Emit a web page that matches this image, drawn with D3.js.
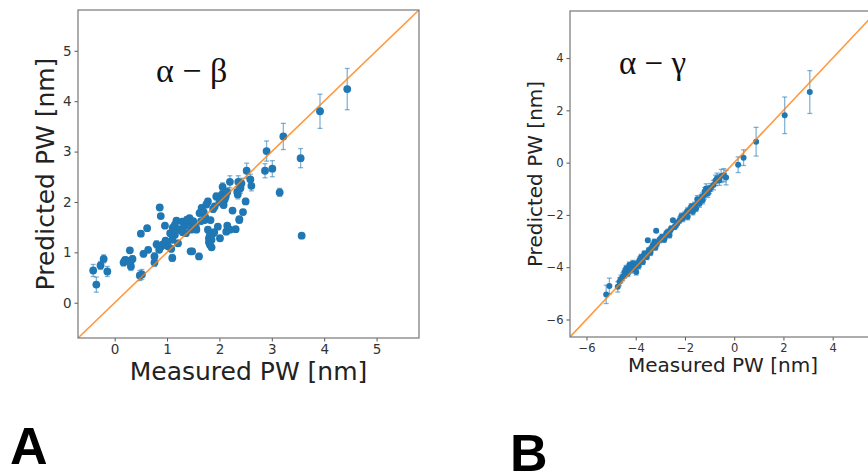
<!DOCTYPE html>
<html>
<head>
<meta charset="utf-8">
<script src="https://cdn.jsdelivr.net/npm/d3@7"></script>
<style>
  body { margin: 0; background: #fff; }
  svg { display: block; }
</style>
</head>
<body>
<div id="chart"></div>
<script>
// panel A: alpha - beta
var measuredA = [-0.41, -0.35, -0.27, -0.21, -0.14, 0.17, 0.22, 0.29, 0.31, 0.34, 0.20, 0.30,
  0.48, 0.52, 0.50, 0.55, 0.62, 0.64, 0.76, 0.76, 0.80, 0.86, 0.88, 0.89, 0.96, 0.92, 0.97, 0.95, 0.85,
  1.02, 1.06, 1.08, 1.10, 1.11, 1.15, 1.18, 1.21, 1.25, 1.29, 1.34, 1.36, 1.40, 1.43, 1.45, 1.46,
  1.51, 1.56, 1.61, 1.62, 1.66, 1.72, 1.78, 1.78, 1.80, 1.82, 1.83, 1.88, 1.88, 1.91, 1.94, 1.97,
  2.01, 2.03, 2.06, 2.08, 2.12, 2.13, 2.15, 2.20, 2.25, 2.31, 2.34, 2.36, 2.38, 2.40, 2.42, 2.45,
  2.50, 2.52, 2.59, 2.61, 2.87, 2.90, 3.01, 3.15, 3.22, 3.55, 3.57, 3.92, 4.44,
  1.00, 1.15, 1.30, 1.38, 1.50, 1.55, 1.70, 1.75, 1.80, 1.82, 1.85, 1.85, 1.90, 2.00, 2.05, 2.10,
  2.15, 2.20, 2.35, 2.38, 2.40, 1.20, 1.10, 1.48, 1.73, 1.65];
var predictedA = [0.64, 0.36, 0.74, 0.87, 0.62, 0.80, 0.84, 1.04, 0.72, 0.87, 0.85, 0.80,
  0.54, 0.56, 1.37, 0.97, 1.48, 1.05, 0.92, 0.80, 1.16, 1.89, 1.72, 1.12, 1.53, 1.16, 1.23, 1.15, 1.05,
  1.12, 1.38, 1.07, 0.89, 1.49, 1.35, 1.63, 1.18, 1.46, 1.61, 1.53, 1.38, 1.59, 1.68, 1.02, 1.45,
  1.55, 1.45, 0.92, 1.78, 1.88, 1.64, 2.01, 1.45, 1.28, 1.15, 1.64, 1.86, 1.38, 1.91, 2.11, 1.51,
  1.28, 2.04, 2.30, 1.94, 2.11, 1.41, 1.53, 2.40, 1.83, 1.46, 2.20, 2.40, 1.64, 2.27, 2.37, 1.80,
  2.01, 2.62, 2.45, 2.32, 2.62, 3.01, 2.66, 2.19, 3.30, 2.87, 1.33, 3.80, 4.24,
  1.20, 1.55, 1.40, 1.65, 1.62, 1.50, 1.80, 1.95, 1.20, 1.35, 1.10, 1.25, 1.40, 2.00, 2.15, 2.05,
  2.20, 1.45, 2.15, 1.66, 2.30, 1.45, 1.25, 1.02, 1.70, 1.62];
var errA = [0.12, 0.15, 0.08, 0.08, 0.10, 0.07, 0.06, 0.05, 0.08, 0.06, 0.05, 0.05,
  0.10, 0.10, 0.03, 0.06, 0.03, 0.05, 0.07, 0.08, 0.07, 0.03, 0.03, 0.06, 0.03, 0.05, 0.05, 0.05, 0.05,
  0.06, 0.05, 0.06, 0.07, 0.05, 0.06, 0.05, 0.06, 0.05, 0.05, 0.05, 0.05, 0.05, 0.05, 0.04, 0.05,
  0.05, 0.05, 0.06, 0.06, 0.06, 0.05, 0.06, 0.05, 0.05, 0.05, 0.05, 0.06, 0.05, 0.06, 0.07, 0.05,
  0.05, 0.07, 0.08, 0.06, 0.07, 0.05, 0.05, 0.12, 0.05, 0.05, 0.10, 0.12, 0.05, 0.10, 0.10, 0.05,
  0.06, 0.15, 0.10, 0.10, 0.14, 0.20, 0.16, 0.08, 0.26, 0.19, 0.03, 0.34, 0.41,
  0.05, 0.05, 0.05, 0.05, 0.05, 0.05, 0.06, 0.06, 0.05, 0.05, 0.05, 0.05, 0.05, 0.07, 0.08, 0.07,
  0.08, 0.05, 0.09, 0.05, 0.10, 0.05, 0.05, 0.04, 0.06, 0.05];
var ticksA = [0, 1, 2, 3, 4, 5];

// panel B: alpha - gamma
var measuredB = [-5.20, -5.07, -4.73, -4.66, -4.53, -4.46, -4.39, -4.32, -4.26, -4.19, -4.12, -4.05,
  -3.98, -3.92, -3.85, -3.78, -3.71, -3.65, -3.55, -3.47, -3.51, -3.38, -3.31, -3.24, -3.17, -3.14,
  -3.04, -2.93, -2.83, -2.76, -2.70, -2.63, -2.56, -2.49, -2.42, -2.36, -2.22, -2.09, -2.02, -1.95,
  -1.89, -1.82, -1.75, -1.68, -1.61, -1.55, -1.48, -1.41, -1.34, -1.28, -1.21, -1.14, -1.07, -1.00,
  -0.84, -0.76, -0.60, -0.53, -0.42, -0.33, 0.16, 0.38, 0.89, 2.05, 3.07,
  -4.60, -4.45, -4.15, -4.00, -3.88, -3.60, -3.40, -3.20, -3.00, -2.85, -2.60, -2.30, -2.15, -1.90,
  -1.70, -1.50, -1.30, -1.20, -0.95, -0.70];
var predictedB = [-5.04, -4.72, -4.75, -4.56, -4.37, -4.18, -4.05, -4.24, -3.92, -4.11, -3.86, -4.05,
  -4.18, -3.86, -3.73, -3.61, -3.80, -3.48, -3.61, -3.35, -2.97, -3.29, -3.16, -3.03, -2.61, -3.10,
  -2.97, -2.84, -2.90, -2.71, -2.65, -2.78, -2.52, -2.20, -2.46, -2.39, -2.20, -2.14, -2.01, -1.95,
  -2.07, -1.82, -1.69, -1.88, -1.63, -1.75, -1.50, -1.57, -1.37, -1.44, -1.24, -0.99, -1.18, -1.03,
  -0.86, -0.68, -0.67, -0.51, -0.48, -0.57, -0.08, 0.19, 0.80, 1.81, 2.70,
  -4.45, -4.30, -3.98, -3.90, -3.95, -3.55, -3.45, -3.25, -2.92, -2.95, -2.60, -2.30, -2.05, -1.85,
  -1.70, -1.40, -1.30, -1.10, -0.95, -0.60];
var errB = [0.35, 0.30, 0.20, 0.15, 0.15, 0.12, 0.12, 0.12, 0.12, 0.12, 0.12, 0.12,
  0.12, 0.12, 0.12, 0.10, 0.10, 0.10, 0.10, 0.10, 0.05, 0.10, 0.10, 0.10, 0.05, 0.10,
  0.10, 0.10, 0.10, 0.10, 0.10, 0.10, 0.10, 0.05, 0.10, 0.10, 0.12, 0.12, 0.12, 0.12,
  0.12, 0.12, 0.12, 0.12, 0.12, 0.12, 0.14, 0.14, 0.14, 0.14, 0.15, 0.18, 0.15, 0.15,
  0.18, 0.20, 0.20, 0.25, 0.25, 0.28, 0.30, 0.30, 0.55, 0.70, 0.82,
  0.15, 0.12, 0.12, 0.12, 0.12, 0.10, 0.10, 0.10, 0.10, 0.10, 0.10, 0.10, 0.12, 0.12,
  0.12, 0.14, 0.14, 0.15, 0.15, 0.20];
var ticksB = [-6, -4, -2, 0, 2, 4];

var W = 868, H = 473;
var svg = d3.select("#chart").append("svg")
    .attr("width", W)
    .attr("height", H);

var fmt = d => d < 0 ? "\u2212" + Math.abs(d) : "" + d;

function drawPanel(p) {
    var x = d3.scaleLinear().domain(p.domain).range([p.left, p.right]);
    var y = d3.scaleLinear().domain(p.domain).range([p.bottom, p.top]);
    var g = svg.append("g");

    var clipId = "clip" + p.name;
    g.append("clipPath").attr("id", clipId)
        .append("rect")
        .attr("x", p.left).attr("y", p.top)
        .attr("width", p.right - p.left).attr("height", p.bottom - p.top);

    var plot = g.append("g").attr("clip-path", "url(#" + clipId + ")");

    var pts = p.xs.map((v, i) => ({x: v, y: p.ys[i], e: p.es[i]}));

    // error bars
    var eb = plot.selectAll(".eb").data(pts).enter().append("g")
        .attr("stroke", "#1f77b4")
        .attr("stroke-opacity", 0.55)
        .attr("stroke-width", 1.3);
    eb.append("line")
        .attr("x1", d => x(d.x)).attr("x2", d => x(d.x))
        .attr("y1", d => y(d.y - d.e)).attr("y2", d => y(d.y + d.e));
    eb.append("line")
        .attr("x1", d => x(d.x) - p.cap).attr("x2", d => x(d.x) + p.cap)
        .attr("y1", d => y(d.y - d.e)).attr("y2", d => y(d.y - d.e));
    eb.append("line")
        .attr("x1", d => x(d.x) - p.cap).attr("x2", d => x(d.x) + p.cap)
        .attr("y1", d => y(d.y + d.e)).attr("y2", d => y(d.y + d.e));

    // points
    plot.selectAll(".dot").data(pts).enter().append("circle")
        .attr("cx", d => x(d.x))
        .attr("cy", d => y(d.y))
        .attr("r", p.r)
        .attr("fill", "#1f77b4");

    // identity line
    plot.append("line")
        .attr("x1", x(p.domain[0])).attr("y1", y(p.domain[0]))
        .attr("x2", x(p.domain[1])).attr("y2", y(p.domain[1]))
        .attr("stroke", "#ff7f0e")
        .attr("stroke-opacity", 0.8)
        .attr("stroke-width", 1.6);

    // axes
    g.append("g")
        .attr("transform", "translate(0," + p.bottom + ")")
        .call(d3.axisBottom(x).tickValues(p.ticks).tickFormat(fmt).tickSizeOuter(0).tickSize(3.5).tickPadding(3))
        .call(a => a.select(".domain").remove())
        .call(a => a.selectAll("text").attr("fill", "#333").style("font-family", "DejaVu Sans").style("font-size", p.tickFont + "px"))
        .call(a => a.selectAll("line").attr("stroke", "#555"));
    g.append("g")
        .attr("transform", "translate(" + p.left + ",0)")
        .call(d3.axisLeft(y).tickValues(p.ticks).tickFormat(fmt).tickSizeOuter(0).tickSize(3.5).tickPadding(3))
        .call(a => a.select(".domain").remove())
        .call(a => a.selectAll("text").attr("fill", "#333").style("font-family", "DejaVu Sans").style("font-size", p.tickFont + "px"))
        .call(a => a.selectAll("line").attr("stroke", "#555"));

    // frame
    g.append("rect")
        .attr("x", p.left).attr("y", p.top)
        .attr("width", p.right - p.left).attr("height", p.bottom - p.top)
        .attr("fill", "none")
        .attr("stroke", "#777")
        .attr("stroke-width", 1.2);

    // axis labels
    g.append("text")
        .attr("x", (p.left + Math.min(p.right, W)) / 2 + p.xlabDx)
        .attr("y", p.xlabY)
        .attr("text-anchor", "middle")
        .style("font-family", "DejaVu Sans")
        .style("font-size", p.labFont + "px")
        .attr("fill", "#222")
        .text("Measured PW [nm]");
    g.append("text")
        .attr("transform", "translate(" + p.ylabX + "," + (p.top + p.bottom) / 2 + ") rotate(-90)")
        .attr("text-anchor", "middle")
        .style("font-family", "DejaVu Sans")
        .style("font-size", p.labFont + "px")
        .attr("fill", "#222")
        .text("Predicted PW [nm]");

    // pair label
    g.append("text")
        .attr("x", p.tagX).attr("y", p.tagY)
        .style("font-family", "Liberation Serif")
        .style("font-size", p.tagFont + "px")
        .attr("fill", "#111")
        .text(p.tag);

    // panel letter
    g.append("text")
        .attr("x", p.letterX).attr("y", p.letterY)
        .style("font-family", "Liberation Sans")
        .style("font-weight", "bold")
        .style("font-size", "52px")
        .attr("fill", "#000")
        .text(p.name);
}

drawPanel({
    name: "A", xs: measuredA, ys: predictedA, es: errA, ticks: ticksA,
    domain: [-0.7, 5.81], left: 78, right: 419, top: 10, bottom: 338,
    r: 3.9, cap: 2.5, tickFont: 13.5, labFont: 25,
    xlabY: 380, xlabDx: 0, ylabX: 54,
    tag: "\u03b1 \u2212 \u03b2", tagX: 156, tagY: 82, tagFont: 34,
    letterX: 10, letterY: 464
});

drawPanel({
    name: "B", xs: measuredB, ys: predictedB, es: errB, ticks: ticksB,
    domain: [-6.67, 5.8], left: 570, right: 877, top: 11, bottom: 337,
    r: 3, cap: 2.5, tickFont: 11.5, labFont: 20,
    xlabY: 372, xlabDx: 4, ylabX: 542,
    tag: "\u03b1 \u2212 \u03b3", tagX: 619, tagY: 74, tagFont: 33,
    letterX: 510, letterY: 471
});
</script>
</body>
</html>
